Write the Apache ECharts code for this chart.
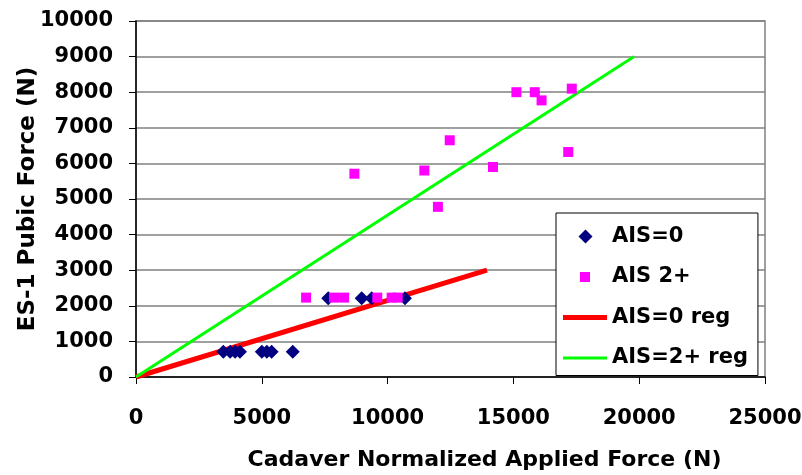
<!DOCTYPE html>
<html>
<head>
<meta charset="utf-8">
<script src="https://cdn.jsdelivr.net/npm/echarts@6/dist/echarts.min.js"></script>
<style>
  html, body { margin: 0; padding: 0; background: #fff; }
  #chart { width: 802px; height: 475px; }
</style>
</head>
<body>
<div id="chart"></div>
<script>
// Injury groups: applied force (N) vs. ES-1 pubic force (N)
const ais0Points = [
  [3470, 710], [3740, 710], [3940, 710], [4130, 710],
  [5000, 710], [5200, 710], [5390, 710], [6230, 710],
  [7640, 2210], [8970, 2210], [9370, 2210], [10690, 2210]
];
const ais2Points = [
  [6760, 2230], [7870, 2230], [8270, 2230], [9590, 2230], [10160, 2230], [10400, 2230],
  [8680, 5710], [11460, 5800], [12470, 6650], [12000, 4780], [14190, 5900],
  [15120, 8000], [15850, 8000], [16120, 7770], [17320, 8100], [17180, 6320]
];
// Regression lines through the origin
const ais0Reg = [[0, 0], [13950, 3000]];
const ais2Reg = [[0, 0], [19800, 9000]];

const seriesNames = ['AIS=0', 'AIS 2+', 'AIS=0 reg', 'AIS=2+ reg'];
const xTicks = { min: 0, max: 25000, interval: 5000 };
const yTicks = { min: 0, max: 10000, interval: 1000 };

const FONT = 'DejaVu Sans';

// Legend glyphs drawn inside a 44x14 box so each keeps its own size
const ICON_DIAMOND = 'path://M0,0M44,14M15.5,7L22.5,0L29.5,7L22.5,14Z';
const ICON_SQUARE = 'path://M0,0M44,14M17,2L27,2L27,12L17,12Z';
const ICON_THICK = 'path://M0,0M44,14M0,4.5L44,4.5L44,9.5L0,9.5Z';
const ICON_THIN = 'path://M0,0M44,14M0,5.5L44,5.5L44,8.5L0,8.5Z';

const chart = echarts.init(document.getElementById('chart'), null, { renderer: 'canvas' });

chart.setOption({
  animation: false,
  backgroundColor: '#ffffff',
  grid: {
    left: 136, right: 37, top: 21, bottom: 98,
    containLabel: false,
    outerBoundsMode: 'none',
    show: true,
    borderColor: '#808080',
    borderWidth: 1.5,
    backgroundColor: 'transparent'
  },
  legend: {
    orient: 'vertical',
    left: 556,
    top: 213,
    padding: [13, 10, 7, 7],
    itemGap: 19.5,
    itemWidth: 44,
    itemHeight: 14,
    backgroundColor: '#ffffff',
    borderColor: '#000000',
    borderWidth: 1,
    textStyle: { fontFamily: FONT, fontWeight: 'bold', fontSize: 21, color: '#000' },
    data: [
      { name: seriesNames[0], icon: ICON_DIAMOND },
      { name: seriesNames[1], icon: ICON_SQUARE },
      { name: seriesNames[2], icon: ICON_THICK },
      { name: seriesNames[3], icon: ICON_THIN }
    ]
  },
  xAxis: {
    type: 'value',
    min: xTicks.min, max: xTicks.max, interval: xTicks.interval,
    name: 'Cadaver Normalized Applied Force (N)',
    nameLocation: 'middle',
    nameGap: 72,
    nameMoveOverlap: false,
    nameTextStyle: {
      fontFamily: FONT, fontWeight: 'bold', fontSize: 22, color: '#000',
      padding: [0, 0, 0, 68]
    },
    axisLine: { show: true, lineStyle: { color: '#000', width: 1.5 } },
    axisTick: { show: true, inside: false, length: 7, lineStyle: { color: '#000', width: 1 } },
    axisLabel: {
      margin: 31, fontFamily: FONT, fontWeight: 'bold', fontSize: 21, color: '#000',
      formatter: v => String(v)
    },
    splitLine: { show: false }
  },
  yAxis: {
    type: 'value',
    min: yTicks.min, max: yTicks.max, interval: yTicks.interval,
    name: 'ES-1 Pubic Force (N)',
    nameLocation: 'middle',
    nameRotate: 90,
    nameGap: 96,
    nameMoveOverlap: false,
    nameTextStyle: { fontFamily: FONT, fontWeight: 'bold', fontSize: 23, color: '#000' },
    axisLine: { show: true, lineStyle: { color: '#000', width: 1.5 } },
    axisTick: { show: true, inside: false, length: 7, lineStyle: { color: '#000', width: 1 } },
    axisLabel: {
      margin: 23, fontFamily: FONT, fontWeight: 'bold', fontSize: 21, color: '#000',
      formatter: v => String(v)
    },
    splitLine: { show: true, lineStyle: { color: '#808080', width: 1.5 } }
  },
  series: [
    {
      name: seriesNames[2],
      type: 'line',
      data: ais0Reg,
      symbol: 'none',
      z: 2,
      lineStyle: { color: '#ff0000', width: 5 },
      itemStyle: { color: '#ff0000' }
    },
    {
      name: seriesNames[3],
      type: 'line',
      data: ais2Reg,
      symbol: 'none',
      z: 2,
      lineStyle: { color: '#00ff00', width: 3 },
      itemStyle: { color: '#00ff00' }
    },
    {
      name: seriesNames[0],
      type: 'scatter',
      data: ais0Points,
      symbol: 'diamond',
      symbolSize: 14,
      z: 3,
      itemStyle: { color: '#000080', opacity: 1 }
    },
    {
      name: seriesNames[1],
      type: 'scatter',
      data: ais2Points,
      symbol: 'rect',
      symbolSize: 10,
      z: 4,
      itemStyle: { color: '#ff00ff', opacity: 1 }
    }
  ]
});
</script>
</body>
</html>
